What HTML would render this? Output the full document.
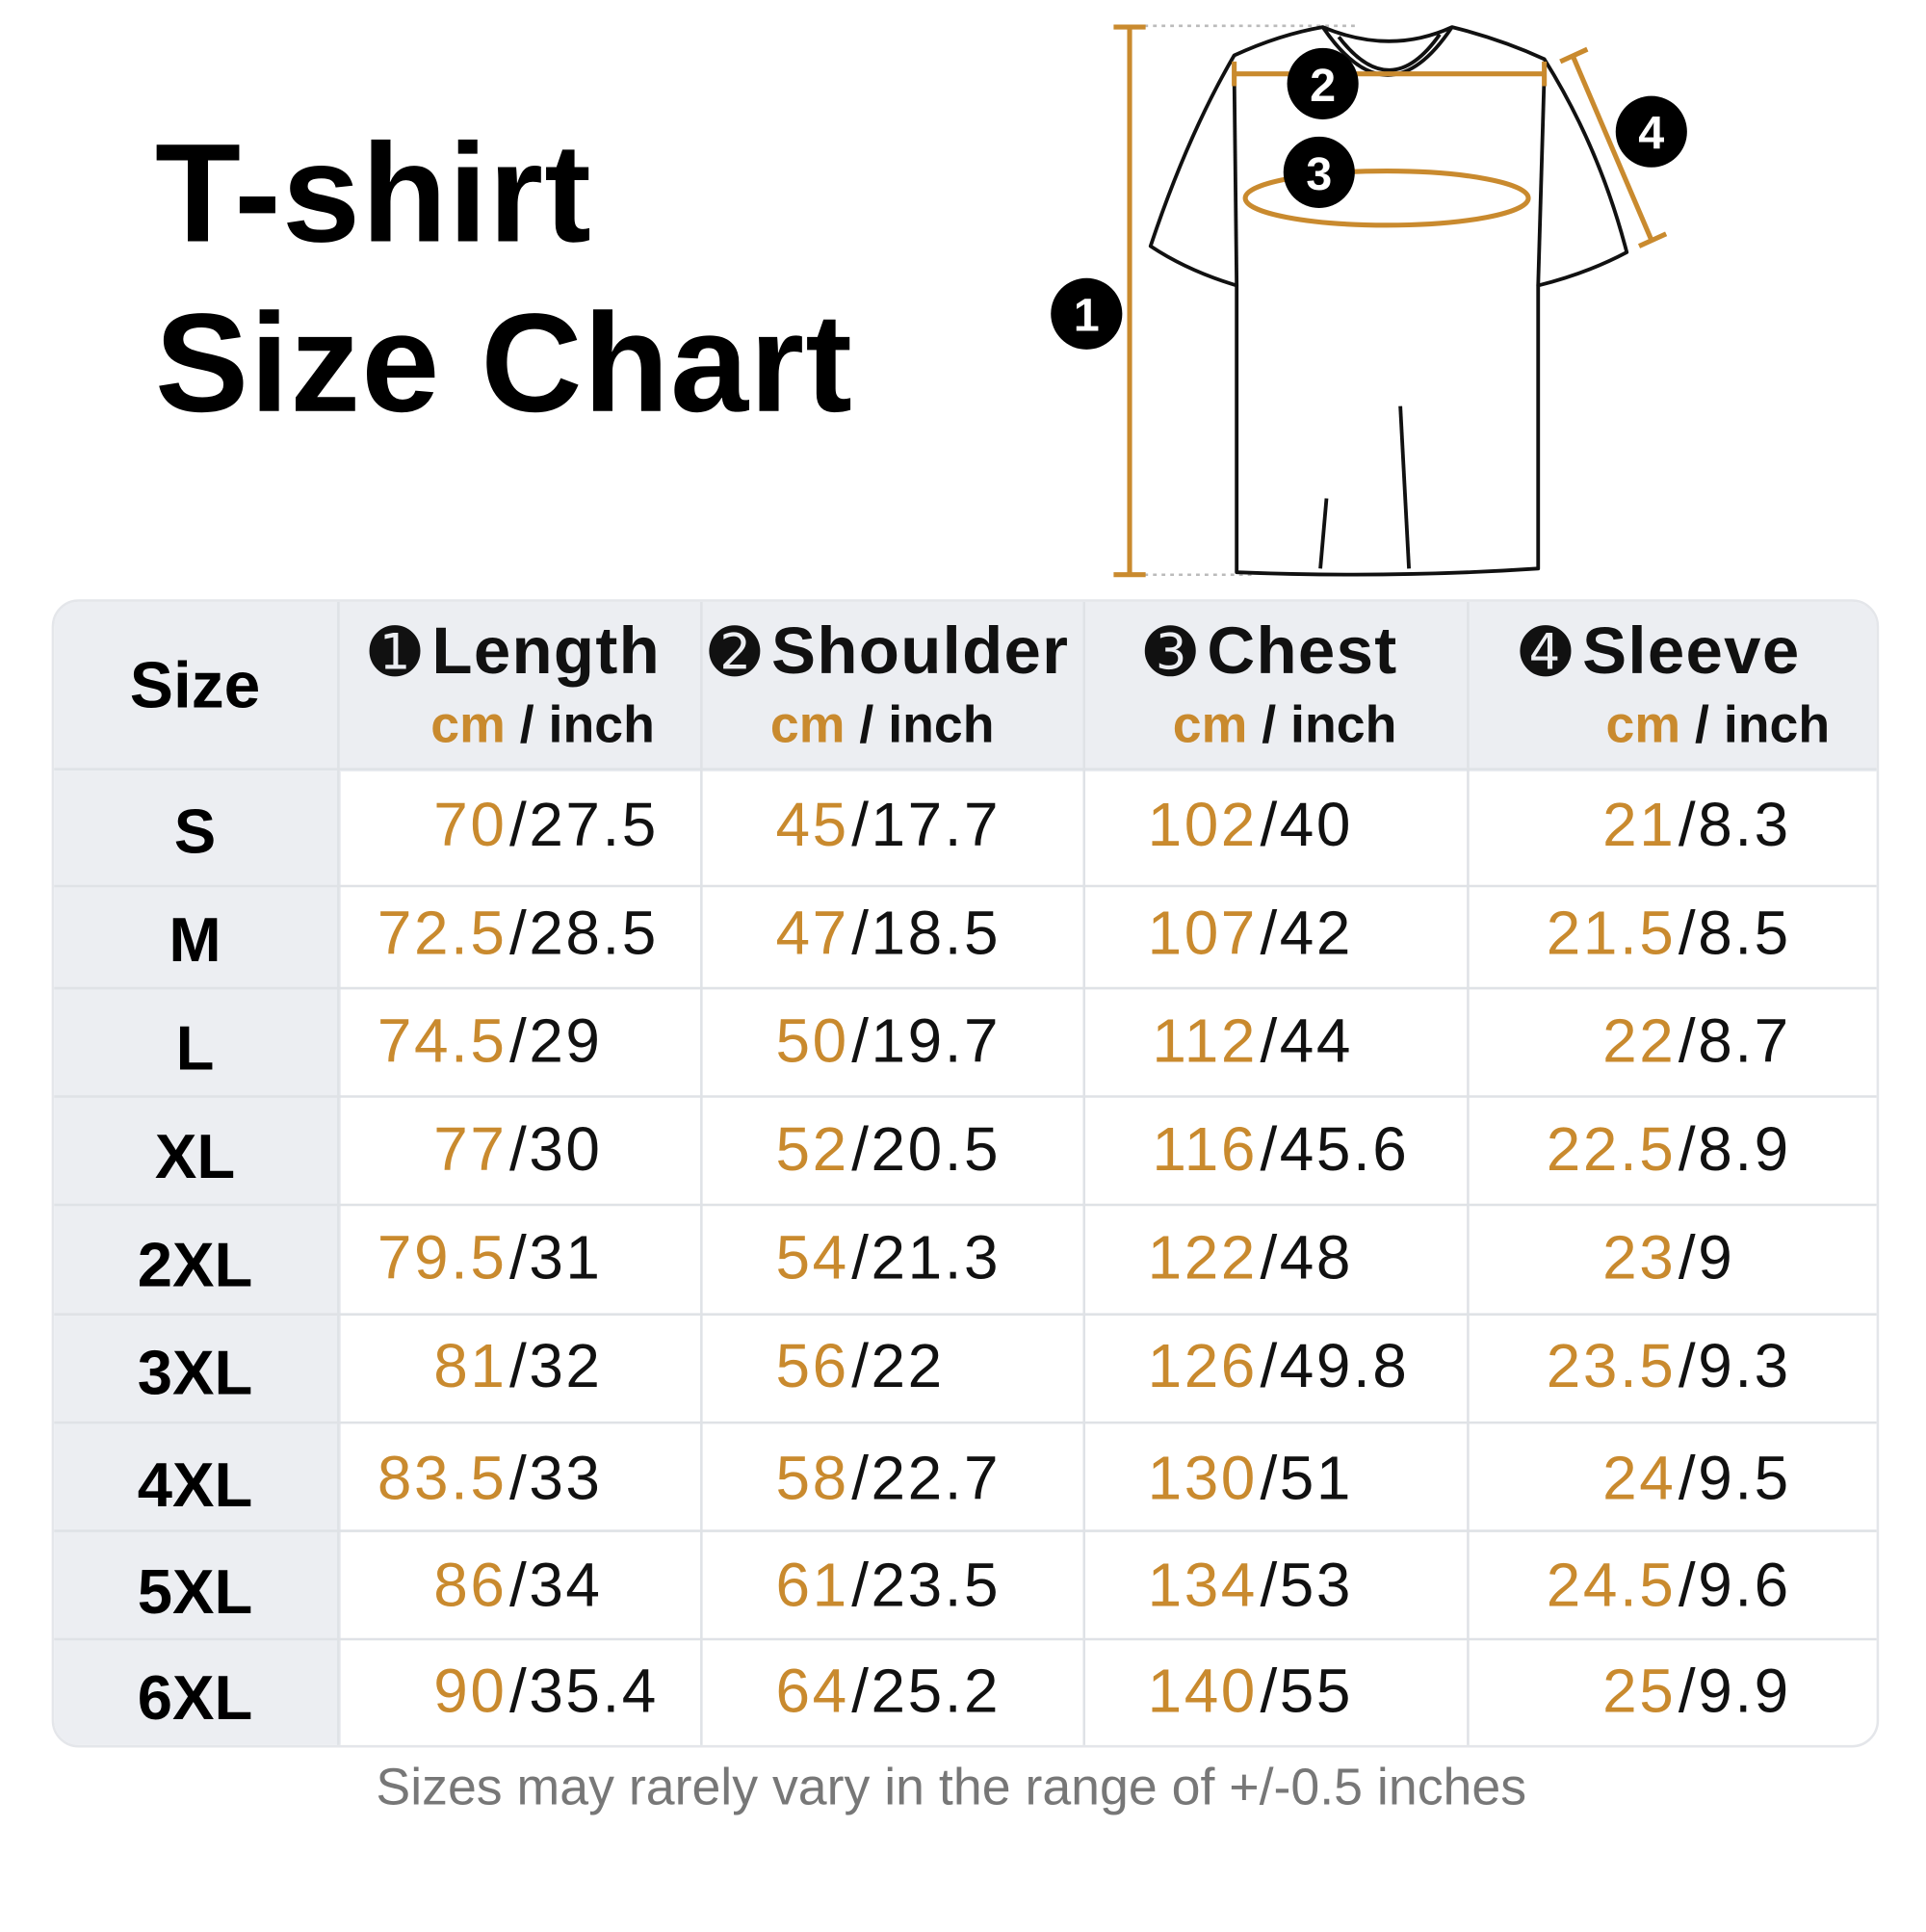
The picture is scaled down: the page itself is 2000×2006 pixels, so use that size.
<!DOCTYPE html>
<html><head><meta charset="utf-8"><style>
html,body{margin:0;padding:0;background:#fff;width:2000px;height:2000px;overflow:hidden}
#w{position:absolute;left:0;top:0;width:1570px;height:1570px;transform:scale(1.2778);transform-origin:0 0;font-family:"Liberation Sans","DejaVu Sans",sans-serif}
.a{position:absolute;white-space:nowrap}
.t{font-weight:bold;font-size:114px;color:#000;left:126px;letter-spacing:1px}
.cm{position:absolute;color:#c98a2e;font-size:50px;letter-spacing:2px;text-align:right;height:60px;line-height:60px}
.in{position:absolute;color:#111;font-size:50px;letter-spacing:2px;height:60px;line-height:60px}
.sz{position:absolute;left:42px;width:233px;text-align:center;font-weight:bold;font-size:51px;height:60px;line-height:60px;color:#000}
.h{position:absolute;font-weight:bold;font-size:54px;color:#111;top:498px;letter-spacing:1px}
.h .n{font-family:"DejaVu Sans",sans-serif;font-size:50px;margin-right:8px}
.u{position:absolute;font-weight:bold;font-size:42px;top:565px;color:#111}
.u b{color:#c98a2e}
</style></head><body><div id="w">
<div class="a t" style="top:92px">T-shirt</div>
<div class="a t" style="top:230px">Size Chart</div>

<svg class="a" style="left:0;top:0" width="1560" height="480">
<g stroke="#bbb" stroke-width="2" stroke-dasharray="3 4"><line x1="930" y1="21" x2="1105" y2="21"/><line x1="930" y1="467" x2="1020" y2="467"/></g>
<g stroke="#c98a2e" stroke-width="4" fill="none">
<line x1="918" y1="22" x2="918" y2="467"/><line x1="905" y1="22" x2="931" y2="22"/><line x1="905" y1="467" x2="931" y2="467"/>
</g>
<g stroke="#111" stroke-width="3" fill="none" stroke-linejoin="round">
<path d="M1003,45 Q1040,28 1075,22 Q1130,45 1180,22 Q1220,32 1255,48 Q1300,120 1322,205 Q1290,222 1250,232 L1250,462 Q1130,470 1005,465 L1005,232 Q965,220 935,200 Q965,110 1003,45 Z"/>
<path d="M1075,22 Q1128,100 1180,22"/><path d="M1088,30 Q1130,85 1170,28"/>
<path d="M1138,330 L1145,462"/><path d="M1078,405 L1073,462"/><path d="M1003,60 L1005,232"/><path d="M1255,60 L1250,232"/>
</g>
<g stroke="#c98a2e" stroke-width="4" fill="none">
<line x1="1003" y1="60" x2="1255" y2="60"/><line x1="1003" y1="50" x2="1003" y2="70"/><line x1="1255" y1="50" x2="1255" y2="70"/>
<ellipse cx="1127" cy="161" rx="115" ry="22"/>
<line x1="1278" y1="45" x2="1342" y2="195"/><line x1="1268" y1="50" x2="1290" y2="40"/><line x1="1332" y1="200" x2="1354" y2="190"/>
</g>
<g font-family="Liberation Sans,sans-serif" font-weight="bold" font-size="38" fill="#fff" text-anchor="middle">
<circle cx="883" cy="255" r="29" fill="#000"/><text x="883" y="269">1</text>
<circle cx="1075" cy="68" r="29" fill="#000"/><text x="1075" y="82">2</text>
<circle cx="1072" cy="140" r="29" fill="#000"/><text x="1072" y="154">3</text>
<circle cx="1342" cy="107" r="29" fill="#000"/><text x="1342" y="121">4</text>
</g>
</svg>

<div class="a" style="left:42px;top:487px;width:1485px;height:933px;border-radius:22px;border:2px solid #e4e6ea;box-sizing:border-box;overflow:hidden;background:#fff">
<div class="a" style="left:0;top:0;width:1485px;height:138px;background:#eceef2"></div>
<div class="a" style="left:0;top:0;width:233px;height:933px;background:#eceef2"></div>
</div>
<svg class="a" style="left:0;top:0" width="1560" height="1560">
<g stroke="#dfe2e6" stroke-width="2">
<line x1="275" y1="489" x2="275" y2="1418"/><line x1="570" y1="489" x2="570" y2="1418"/><line x1="881" y1="489" x2="881" y2="1418"/><line x1="1193" y1="489" x2="1193" y2="1418"/>
<line x1="44" y1="625" x2="1525" y2="625"/><line x1="44" y1="720" x2="1525" y2="720"/><line x1="44" y1="803" x2="1525" y2="803"/><line x1="44" y1="891" x2="1525" y2="891"/><line x1="44" y1="979" x2="1525" y2="979"/><line x1="44" y1="1068" x2="1525" y2="1068"/><line x1="44" y1="1156" x2="1525" y2="1156"/><line x1="44" y1="1244" x2="1525" y2="1244"/><line x1="44" y1="1332" x2="1525" y2="1332"/>
</g></svg>

<div class="sz" style="top:528px;font-size:53px">Size</div>
<div class="h" style="left:300px"><span class="n">➊</span>Length</div>
<div class="h" style="left:576px"><span class="n">➋</span>Shoulder</div>
<div class="h" style="left:930px"><span class="n">➌</span>Chest</div>
<div class="h" style="left:1235px"><span class="n">➍</span>Sleeve</div>
<div class="u" style="left:350px"><b>cm</b> / inch</div>
<div class="u" style="left:626px"><b>cm</b> / inch</div>
<div class="u" style="left:953px"><b>cm</b> / inch</div>
<div class="u" style="left:1305px"><b>cm</b> / inch</div>

<div id="rows"></div>
<script>
var d=[["S",670,"70","27.5","45","17.7","102","40","21","8.3"],
["M",758,"72.5","28.5","47","18.5","107","42","21.5","8.5"],
["L",846,"74.5","29","50","19.7","112","44","22","8.7"],
["XL",934,"77","30","52","20.5","116","45.6","22.5","8.9"],
["2XL",1022,"79.5","31","54","21.3","122","48","23","9"],
["3XL",1110,"81","32","56","22","126","49.8","23.5","9.3"],
["4XL",1201,"83.5","33","58","22.7","130","51","24","9.5"],
["5XL",1288,"86","34","61","23.5","134","53","24.5","9.6"],
["6XL",1374,"90","35.4","64","25.2","140","55","25","9.9"]];
var sx=[412,690,1022,1362],h="";
d.forEach(function(r){var t=r[1]-30;
h+='<div class="sz" style="top:'+(t+6)+'px">'+r[0]+'</div>';
for(var i=0;i<4;i++){h+='<div class="cm" style="top:'+t+'px;right:'+(1570-sx[i])+'px">'+r[2+2*i]+'</div><div class="in" style="top:'+t+'px;left:'+(sx[i]+2)+'px">/'+r[3+2*i]+'</div>';}
});
document.getElementById("rows").innerHTML=h;
</script>
<div class="a" style="left:0;width:1546px;text-align:center;top:1428px;font-size:42px;color:#777">Sizes may rarely vary in the range of +/-0.5 inches</div>
</div></body></html>
